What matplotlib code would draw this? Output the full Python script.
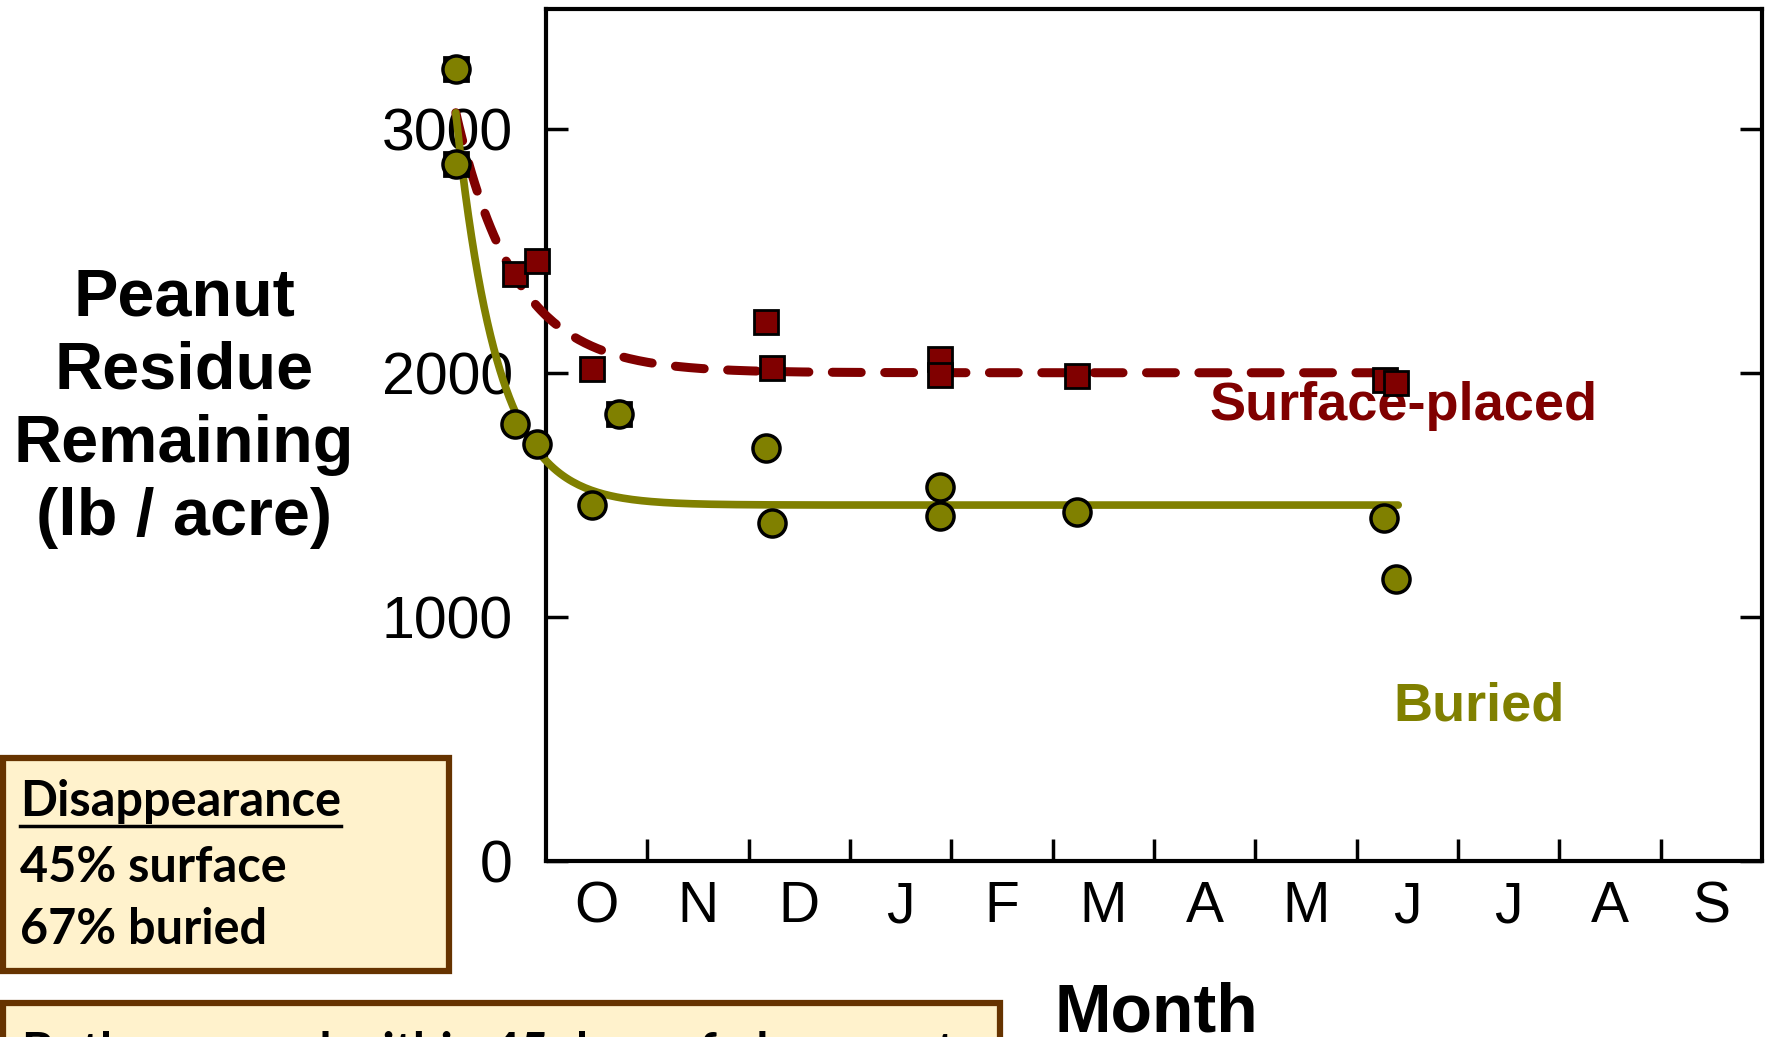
import numpy as np
import matplotlib.pyplot as plt
from matplotlib.patches import Rectangle
from matplotlib.lines import Line2D

# months from 1 Oct (x = 0) to 30 Sep (x = 12)
months = ['O', 'N', 'D', 'J', 'F', 'M', 'A', 'M', 'J', 'J', 'A', 'S']

surf_month = [-0.89, -0.89, -0.31, -0.09, 0.45, 0.72, 2.17, 2.23, 3.89, 3.89, 5.24, 8.28, 8.39]
surf_lb = [3245, 2856, 2403, 2458, 2014, 1833, 2208, 2019, 2056, 1991, 1986, 1972, 1958]

buried_month = [-0.89, -0.89, -0.31, -0.09, 0.45, 0.72, 2.17, 2.23, 3.89, 3.89, 5.24, 8.27, 8.39]
buried_lb = [3245, 2856, 1792, 1708, 1458, 1833, 1690, 1384, 1532, 1412, 1431, 1403, 1157]

# fitted decay curves: plateau + (start - plateau) * exp(-rate * (t - t0))
fit_t0, fit_t1 = -0.89, 8.41
surf_start, surf_plateau, surf_rate = 3065, 2000, 1.7
buried_start, buried_plateau, buried_rate = 3065, 1458, 2.45

RED = '#800000'
OLIVE = '#808000'
W, H = 1771, 1037

plt.rcParams['font.family'] = 'Liberation Sans'

fig = plt.figure(figsize=(W / 100, H / 100), dpi=100)
ax = fig.add_axes([546 / W, 1 - 861 / H, (1762 - 546) / W, (861 - 9) / H])

t = np.linspace(fit_t0, fit_t1, 300)
surf_fit = surf_plateau + (surf_start - surf_plateau) * np.exp(-surf_rate * (t - fit_t0))
buried_fit = buried_plateau + (buried_start - buried_plateau) * np.exp(-buried_rate * (t - fit_t0))

ax.plot(t, surf_fit, color=RED, lw=6.5, ls=(0, (3.2, 2.6)), dash_capstyle='round',
        clip_on=False, zorder=3)
ax.plot(t, buried_fit, color=OLIVE, lw=5.5, solid_capstyle='round', clip_on=False, zorder=3)

ax.plot(surf_month, surf_lb, 's', ms=17, mfc=RED, mec='black', mew=2,
        clip_on=False, zorder=4)
ax.plot(buried_month, buried_lb, 'o', ms=19.5, mfc=OLIVE, mec='black', mew=2.5,
        clip_on=False, zorder=5)

ax.set_xlim(0, 12)
ax.set_ylim(0, 3490)
ax.set_yticks([0, 1000, 2000, 3000])
ax.set_xticks(range(1, 12))
ax.set_xticklabels([])
ax.set_xticks(np.arange(0.5, 12, 1), minor=True)
ax.set_xticklabels(months, minor=True)

ax.tick_params(axis='x', which='major', direction='in', length=16, width=2.5, top=False)
ax.tick_params(axis='x', which='minor', length=0, pad=14, labelsize=41)
ax.tick_params(axis='y', direction='in', length=16, width=2.5, right=True,
               labelsize=42.5, pad=24)
for s in ax.spines.values():
    s.set_linewidth(3)

ax.text(8.46, 1806, 'Surface-placed', color=RED, fontsize=39, fontweight='bold',
        ha='center', va='baseline')
ax.text(9.21, 574, 'Buried', color=OLIVE, fontsize=39, fontweight='bold',
        ha='center', va='baseline')

fig.text(184 / W, 1 - 408 / H, 'Peanut\nResidue\nRemaining\n(lb / acre)',
         fontsize=48, fontweight='bold', ha='center', va='center', linespacing=1.23)
fig.text(1156 / W, 1 - 1032 / H, 'Month', fontsize=49, fontweight='bold',
         ha='center', va='baseline')

# note boxes
box_face, box_edge = '#FFF2CC', '#663300'
fig.patches.append(Rectangle((3 / W, 1 - 971 / H), 446 / W, 213 / H, transform=fig.transFigure,
                             facecolor=box_face, edgecolor=box_edge, lw=4.5))
fig.patches.append(Rectangle((3 / W, 1 - 1070 / H), 997 / W, 67 / H, transform=fig.transFigure,
                             facecolor=box_face, edgecolor=box_edge, lw=4.5))

note_font = dict(family='Lato', fontweight='bold', fontsize=35, ha='left', va='baseline')
head = fig.text(20 / W, 1 - 816 / H, 'Disappearance', **note_font)
fig.text(20 / W, 1 - 882 / H, '45% surface', **note_font)
fig.text(20 / W, 1 - 944 / H, '67% buried', **note_font)
fig.text(22 / W, 1 - 1068 / H, 'Both occurred within 45 days of placement', **note_font)

fig.canvas.draw()
bb = head.get_window_extent()
fig.lines.append(Line2D([bb.x0 / W, bb.x1 / W], [1 - 826 / H, 1 - 826 / H],
                        transform=fig.transFigure, color='black', lw=2.5))

fig.savefig('out.png', dpi=100)
